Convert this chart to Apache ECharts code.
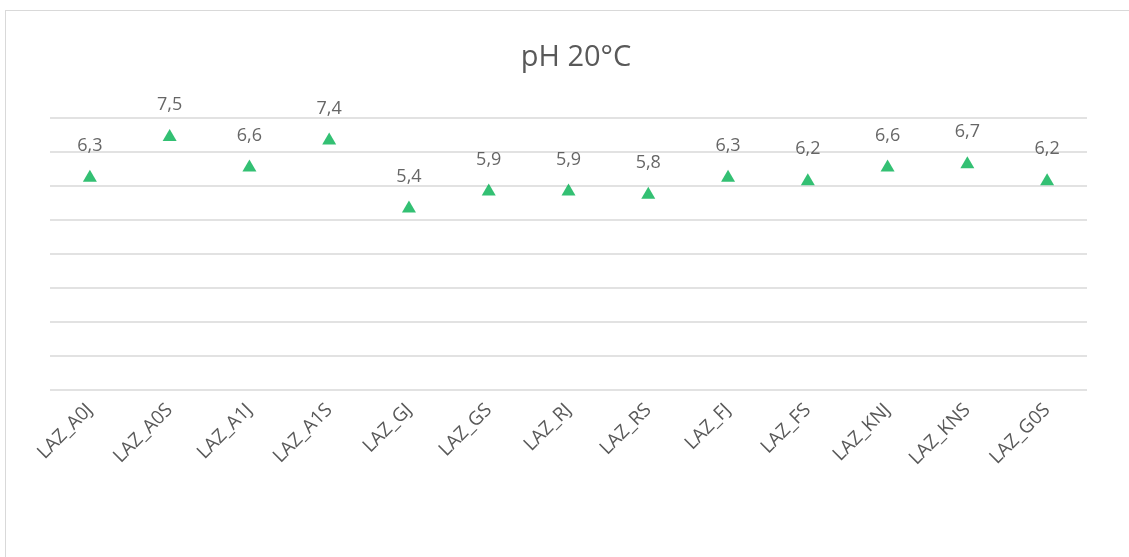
<!DOCTYPE html>
<html>
<head>
<meta charset="utf-8">
<script src="https://cdn.jsdelivr.net/npm/echarts@6/dist/echarts.min.js"></script>
<style>
  html, body { margin: 0; padding: 0; background: #fff; }
  #frame {
    position: absolute; left: 5px; top: 10px; width: 1140px; height: 560px;
    border: 1px solid #d9d9d9; box-sizing: border-box;
  }
  #chart { position: absolute; left: 0; top: 0; width: 1129px; height: 557px; }
</style>
</head>
<body>
<div id="frame"></div>
<div id="chart"></div>
<script>
const categories = ['LAZ_A0J', 'LAZ_A0S', 'LAZ_A1J', 'LAZ_A1S', 'LAZ_GJ', 'LAZ_GS', 'LAZ_RJ',
  'LAZ_RS', 'LAZ_FJ', 'LAZ_FS', 'LAZ_KNJ', 'LAZ_KNS', 'LAZ_G0S']
const phValues = [6.3, 7.5, 6.6, 7.4, 5.4, 5.9, 5.9, 5.8, 6.3, 6.2, 6.6, 6.7, 6.2]

const chart = echarts.init(document.getElementById('chart'))
chart.setOption({
  animation: false,
  title: {
    text: 'pH 20°C',
    left: 571,
    top: 38,
    textAlign: 'center',
    textStyle: {
      fontFamily: 'Open Sans',
      fontSize: 29,
      fontWeight: 'normal',
      color: '#595959'
    }
  },
  grid: { left: 50, right: 42, top: 118, bottom: 167, containLabel: false },
  xAxis: {
    type: 'category',
    data: categories,
    axisLine: { show: false },
    axisTick: { show: false },
    axisLabel: {
      rotate: 45,
      margin: 17,
      fontFamily: 'Open Sans',
      fontSize: 19,
      color: '#595959'
    }
  },
  yAxis: {
    type: 'value',
    min: 0,
    max: 8,
    interval: 1,
    axisLabel: { show: false },
    axisLine: { show: false },
    axisTick: { show: false },
    splitLine: { lineStyle: { color: '#d9d9d9', width: 1.5 } }
  },
  series: [{
    name: 'pH 20°C',
    type: 'scatter',
    symbol: 'triangle',
    symbolSize: [14, 12],
    itemStyle: { color: '#00b050' },
    label: {
      show: true,
      position: 'top',
      distance: 15,
      fontFamily: 'Open Sans',
      fontSize: 18,
      color: '#404040',
      formatter: p => String(p.value).replace('.', ',')
    },
    data: phValues
  }]
})
</script>
</body>
</html>
